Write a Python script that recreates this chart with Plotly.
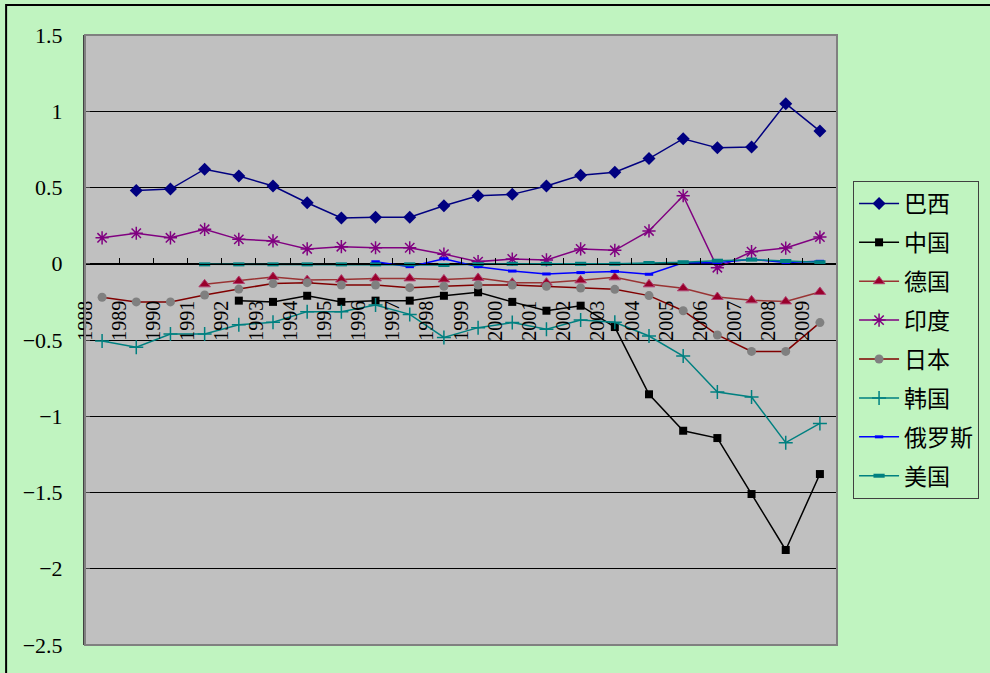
import plotly.graph_objects as go

years = [str(y) for y in range(1988, 2010)]

brazil = [None, 0.48, 0.49, 0.62, 0.575, 0.51, 0.40, 0.30, 0.305, 0.305, 0.38,
          0.446, 0.455, 0.51, 0.58, 0.60, 0.69, 0.82, 0.76, 0.765, 1.05, 0.87]
china = [None, None, None, None, -0.242, -0.25, -0.21, -0.25, -0.242, -0.242, -0.21,
         -0.187, -0.25, -0.308, -0.275, -0.415, -0.856, -1.095, -1.143, -1.51, -1.877, -1.379]
germany = [None, None, None, -0.135, -0.113, -0.087, -0.107, -0.104, -0.096, -0.096, -0.103,
           -0.093, -0.124, -0.124, -0.109, -0.089, -0.135, -0.161, -0.218, -0.24, -0.247, -0.185]
india = [0.17, 0.20, 0.17, 0.226, 0.16, 0.15, 0.097, 0.112, 0.105, 0.105, 0.063,
         0.014, 0.031, 0.025, 0.097, 0.088, 0.215, 0.446, -0.026, 0.079, 0.103, 0.175]
japan = [-0.22, -0.25, -0.25, -0.205, -0.166, -0.13, -0.124, -0.139, -0.139, -0.157, -0.148,
         -0.139, -0.139, -0.148, -0.159, -0.168, -0.209, -0.308, -0.467, -0.575, -0.575, -0.386]
korea = [-0.507, -0.548, -0.461, -0.461, -0.40, -0.384, -0.314, -0.314, -0.27, -0.332, -0.483,
         -0.419, -0.386, -0.43, -0.369, -0.384, -0.474, -0.605, -0.841, -0.874, -1.173, -1.047]
russia = [None, None, None, None, None, None, None, None, 0.013, -0.019, 0.033,
          -0.019, -0.048, -0.067, -0.058, -0.05, -0.069, 0.007, 0.007, 0.029, 0.009, 0.016]
usa = [None, None, None, -0.004, -0.004, -0.004, -0.004, -0.004, -0.004, -0.004, -0.008,
       -0.003, 0.0, 0.0, 0.0, 0.0, 0.005, 0.01, 0.02, 0.027, 0.018, 0.01]

y_ticks = [1.5, 1, 0.5, 0, -0.5, -1, -1.5, -2, -2.5]

series = [
    ("巴西", brazil, "#000080", dict(symbol="diamond", size=10, color="#000080")),
    ("中国", china, "#000000", dict(symbol="square", size=8, color="#000000")),
    ("德国", germany, "#993333", dict(symbol="triangle-up", size=10, color="#99002B",
                                      line=dict(color="#B04070", width=1))),
    ("印度", india, "#800080", dict(symbol="asterisk-open", size=11,
                                    line=dict(color="#800080", width=1.5))),
    ("日本", japan, "#800000", dict(symbol="circle", size=9, color="#808080")),
    ("韩国", korea, "#008080", dict(symbol="cross-thin-open", size=10,
                                    line=dict(color="#008080", width=1.5))),
    ("俄罗斯", russia, "#0000FF", dict(symbol="line-ew-open", size=6,
                                     line=dict(color="#0000FF", width=3))),
    ("美国", usa, "#008080", dict(symbol="line-ew-open", size=8,
                                  line=dict(color="#008080", width=4))),
]

fig = go.Figure()
for i, (name, vals, col, mk) in enumerate(series):
    fig.add_trace(go.Scatter(
        x=years, y=vals, name=name, mode="lines+markers",
        line=dict(color=col, width=1.5), marker=mk,
        legendgroup=f"g{i}", connectgaps=False,
    ))

font_num = "Liberation Serif, Noto Sans CJK SC, serif"
fig.update_layout(
    width=990, height=673,
    margin=dict(l=85, r=152, t=35, b=28),
    paper_bgcolor="#C0F4C0",
    plot_bgcolor="#C0C0C0",
    font=dict(family=font_num, color="#000000"),
    showlegend=True,
    legend=dict(
        x=1.02, y=0.7607, xanchor="left", yanchor="top",
        bgcolor="#C0F4C0", bordercolor="#404040", borderwidth=1,
        font=dict(size=23, family="Noto Sans CJK SC, sans-serif"),
        tracegroupgap=6, traceorder="grouped", itemwidth=40,
    ),
    xaxis=dict(
        type="category", range=[-0.5, 21.5],
        anchor="free", position=0.625,
        showgrid=False, zeroline=False,
        showline=True, linecolor="#000000", linewidth=1,
        ticks="inside", ticklen=6, tickcolor="#000000", tickson="boundaries",
        tickangle=-90, tickfont=dict(size=20),
        ticklabelstandoff=28, ticklabelshift=-17,
    ),
    yaxis=dict(
        range=[-2.5, 1.5], tickvals=y_ticks, ticktext=[f"{v:g}".replace("-", "−") for v in y_ticks],
        showgrid=True, gridcolor="#000000", gridwidth=1,
        zeroline=True, zerolinecolor="#000000", zerolinewidth=1,
        showline=True, linecolor="#404040", linewidth=2,
        ticks="inside", ticklen=5, tickcolor="#404040",
        tickfont=dict(size=22), ticklabelstandoff=16,
    ),
    shapes=[
        dict(type="rect", xref="paper", yref="paper", x0=0, y0=0, x1=1, y1=1,
             line=dict(color="#808080", width=2), fillcolor="rgba(0,0,0,0)", layer="above"),
        dict(type="rect", xref="paper", yref="paper", x0=-0.1049, y0=-0.3, x1=1.4, y1=1.049,
             line=dict(color="#000000", width=2), fillcolor="rgba(0,0,0,0)", layer="above"),
    ],
)

fig.write_html("out.html")
